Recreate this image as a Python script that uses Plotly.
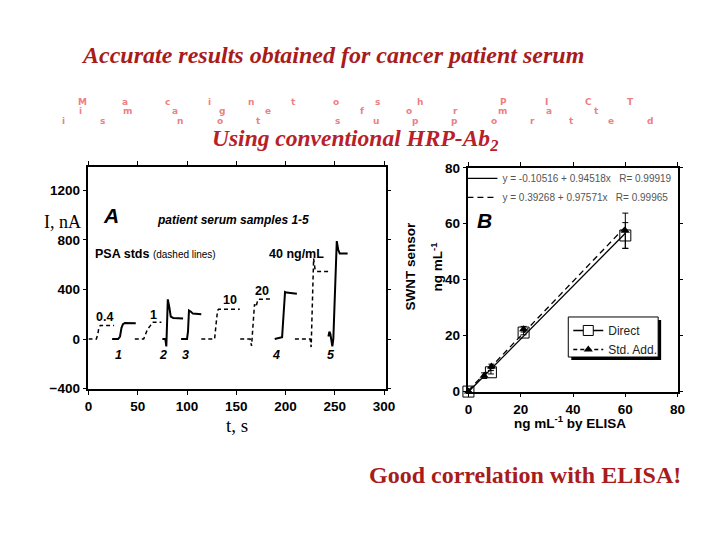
import plotly.graph_objects as go

FW, FH = 720, 540
# map target screen position to figure paper fraction (calibrated to the renderer)
def px(X):
    return ((X - 10.9) / 0.982) / FW
def py(Y):
    return 1 - ((Y - 15.4) / 0.971) / FH

# ---------------- Panel A data (t in s, current in nA) ----------------
std04_t = [0, 8, 9.5, 10.5, 12, 26]
std04_i = [0, 0, 40, 90, 110, 110]

s1_t = [24, 30, 32, 33.5, 35, 37, 48]
s1_i = [0, 0, 20, 90, 120, 130, 128]

std1_t = [47, 56, 58, 60, 63, 65, 74]
std1_i = [0, 0, 40, 80, 110, 135, 135]

s2_t = [75, 78, 79, 80.5, 82, 83.5, 86, 96]
s2_i = [0, 0, -60, 320, 260, 180, 170, 165]

s3_t = [94, 100, 101, 102, 104, 106, 114.5]
s3_i = [0, 0, 60, 230, 220, 205, 200]

std10_t = [114.5, 128, 129.5, 131, 132, 153.5]
std10_i = [0, 0, 120, 230, 240, 240]

std20_t = [154, 164, 165.5, 167, 168.5, 170, 171, 172, 186]
std20_i = [0, 0, -55, 100, 280, 260, 300, 320, 324]

s4_t = [189, 195, 196.5, 198, 199.5, 201, 211.5]
s4_i = [0, 10, 15, 200, 380, 375, 365]

std40_t = [209.5, 225, 226, 227.5, 228.5, 230, 232, 244]
std40_i = [0, 0, -65, 400, 650, 560, 545, 545]

s5_t = [243.5, 244.5, 245.5, 246.5, 247.5, 248.5, 250, 252, 253.5, 255, 263]
s5_i = [20, 60, 40, -20, -60, 0, 300, 790, 720, 690, 690]

a_xticks = [0, 50, 100, 150, 200, 250, 300]
a_yticks = [-400, 0, 400, 800, 1200]

# ---------------- Panel B data (ng/mL) ----------------
elisa_direct = [0, 8.6, 21.1, 60]
sensor_direct = [0, 6.9, 21.1, 55.8]
err_direct = [0, 0.6, 0.8, 4.6]

elisa_std = [0, 6.0, 8.8, 21.1, 60]
sensor_std = [0, 5.7, 9.0, 22.3, 57.5]
err_std = [0, 1.0, 0.8, 1.0, 6.3]

fit_x = [0, 60]
fit_direct = [-0.1, 56.6]
fit_std = [0.4, 58.9]

b_ticks = [0, 20, 40, 60, 80]

fig = go.Figure()

solid = dict(color="black", width=2)
dashed = dict(color="black", width=1.5, dash="4px,3px")

for t, i, ln in [(std04_t, std04_i, dashed), (s1_t, s1_i, solid), (std1_t, std1_i, dashed),
                 (s2_t, s2_i, solid), (s3_t, s3_i, solid), (std10_t, std10_i, dashed),
                 (std20_t, std20_i, dashed), (s4_t, s4_i, solid), (std40_t, std40_i, dashed),
                 (s5_t, s5_i, solid)]:
    fig.add_trace(go.Scatter(x=t, y=i, mode="lines", line=ln, showlegend=False,
                             xaxis="x", yaxis="y", hoverinfo="skip"))

# Panel B fits (legend2)
fig.add_trace(go.Scatter(x=fit_x, y=fit_direct, mode="lines", xaxis="x2", yaxis="y2",
                         line=dict(color="black", width=1.3),
                         name="y = -0.10516 + 0.94518x \u00a0\u00a0R= 0.99919", legend="legend2"))
fig.add_trace(go.Scatter(x=fit_x, y=fit_std, mode="lines", xaxis="x2", yaxis="y2",
                         line=dict(color="black", width=1.3, dash="6px,4px"),
                         name="y = 0.39268 + 0.97571x \u00a0\u00a0R= 0.99965", legend="legend2"))
# Panel B data points
fig.add_trace(go.Scatter(x=elisa_direct, y=sensor_direct, mode="markers", xaxis="x2", yaxis="y2",
                         marker=dict(symbol="square-open", size=11, color="black", line=dict(width=1)),
                         error_y=dict(type="data", array=err_direct, color="black", thickness=1, width=3),
                         showlegend=False, cliponaxis=False))
fig.add_trace(go.Scatter(x=elisa_std, y=sensor_std, mode="markers", xaxis="x2", yaxis="y2",
                         marker=dict(symbol="triangle-up", size=8, color="black"),
                         error_y=dict(type="data", array=err_std, color="black", thickness=1, width=3),
                         showlegend=False, cliponaxis=False))
# legend entries for boxed legend
fig.add_trace(go.Scatter(x=[None], y=[None], mode="lines+markers", xaxis="x2", yaxis="y2",
                         line=dict(color="black", width=1.3),
                         marker=dict(symbol="square", size=10, color="white", line=dict(color="black", width=1)),
                         name="Direct", legend="legend"))
fig.add_trace(go.Scatter(x=[None], y=[None], mode="lines+markers", xaxis="x2", yaxis="y2",
                         line=dict(color="black", width=1.3, dash="4px,3px"),
                         marker=dict(symbol="triangle-up", size=8, color="black"),
                         name="Std. Add.", legend="legend"))

tickfont = dict(family="Liberation Sans", size=13.5, color="black", weight="bold")
axis_common = dict(showline=True, linecolor="black", linewidth=1.5, mirror="allticks",
                   ticks="outside", ticklen=4, tickwidth=1.2, tickcolor="black",
                   showgrid=False, zeroline=False, tickfont=tickfont, fixedrange=True)

annotations = []
def ann(text, x, y, size=12, bold=True, italic=False, family="Liberation Sans", color="black",
        xref="paper", yref="paper", xanchor="center", angle=0):
    annotations.append(dict(text=text, x=x, y=y, xref=xref, yref=yref, showarrow=False,
                            xanchor=xanchor, yanchor="middle", textangle=angle,
                            font=dict(family=family, size=size, color=color,
                                      weight="bold" if bold else "normal",
                                      style="italic" if italic else "normal")))

# Slide texts
ann("Accurate results obtained for cancer patient serum", px(332), py(55), size=24,
    italic=True, family="Liberation Serif", color="#a81c1c")
ann("Using conventional HRP-Ab<sub>2</sub>", px(354), py(140), size=23.5,
    italic=True, family="Liberation Serif", color="#b8202a")
ann("Good correlation with ELISA!", px(525), py(475), size=24,
    family="Liberation Serif", color="#a81c1c")

# Pink placeholder text (letter-spaced)
pink_lines = [("Macintosh PICT", 82, 630, 102), ("image format", 80, 596, 111.5),
              ("is not supported", 62, 650, 121)]
for txt, x0, x1, yy in pink_lines:
    n = len(txt)
    for k, ch in enumerate(txt):
        if ch == " ":
            continue
        xx = x0 + k * (x1 - x0) / (n - 1)
        ann(ch, px(xx), py(yy), size=9, family="DejaVu Sans", color="rgba(235,110,115,0.9)")

# Panel A texts
ann("I, nA", px(61), py(222), size=18, bold=False, family="Liberation Serif")
ann("t, s", px(236), py(425), size=19, bold=False, family="Liberation Serif")
ann("A", 22.7, 994, size=21, italic=True, xref="x", yref="y")
ann("patient serum samples 1-5", 147, 961, size=12, italic=True, xref="x", yref="y")
ann("PSA stds <span style='font-size:10px;font-weight:normal'>(dashed lines)</span>", 4.5, 687,
    size=12.5, xref="x", yref="y", xanchor="left")
ann("40 ng/mL", 211, 687, size=12.5, xref="x", yref="y")
for txt, tx, ty in [("0.4", 16.7, 178), ("1", 66, 194), ("10", 144, 315), ("20", 176, 388)]:
    ann(txt, tx, ty, size=12.5, xref="x", yref="y")
for txt, tx in [("1", 30.8), ("2", 75.3), ("3", 98.5), ("4", 190.4), ("5", 246)]:
    ann(txt, tx, -129, size=12.5, italic=True, xref="x", yref="y")

# Panel B texts
ann("SWNT sensor", px(410), py(266), size=13.5, angle=-90)
ann("ng mL<sup>-1</sup>", px(436), py(267), size=13.5, angle=-90)
ann("ng mL<sup>-1</sup> by ELISA", px(570), py(422), size=13.5)
ann("B", 6.3, 61, size=21, italic=True, xref="x2", yref="y2")

shapes = [
    dict(type="rect", xref="paper", yref="paper", x0=px(571), x1=px(661), y0=py(320), y1=py(360),
         fillcolor="black", line=dict(width=0), layer="above"),
    dict(type="rect", xref="paper", yref="paper", x0=px(568), x1=px(658), y0=py(317), y1=py(357),
         fillcolor="white", line=dict(color="black", width=1), layer="above"),
]

fig.update_layout(
    width=FW, height=FH, margin=dict(l=0, r=0, t=0, b=0),
    paper_bgcolor="white", plot_bgcolor="white",
    xaxis=dict(domain=[px(87.5), px(385)], range=[0, 301.5], tickvals=a_xticks, anchor="y", **axis_common),
    yaxis=dict(domain=[py(389), py(167)], range=[-404, 1390], tickvals=a_yticks, anchor="x", **axis_common),
    xaxis2=dict(domain=[px(468), px(677.5)], range=[0, 80], tickvals=b_ticks, anchor="y2", **axis_common),
    yaxis2=dict(domain=[py(391.5), py(168)], range=[0, 80], tickvals=b_ticks, anchor="x2", **axis_common),
    legend=dict(x=px(568), y=py(316), xanchor="left", yanchor="top", bgcolor="rgba(0,0,0,0)",
                borderwidth=0, font=dict(family="Liberation Sans", size=12, color="#222"),
                tracegroupgap=0, itemwidth=30),
    legend2=dict(x=px(462), y=py(164), xanchor="left", yanchor="top", bgcolor="rgba(0,0,0,0)",
                 borderwidth=0, font=dict(family="Liberation Sans", size=10, color="#555"),
                 tracegroupgap=0, itemwidth=30),
    annotations=annotations, shapes=shapes,
)

fig.write_html("out.html")
